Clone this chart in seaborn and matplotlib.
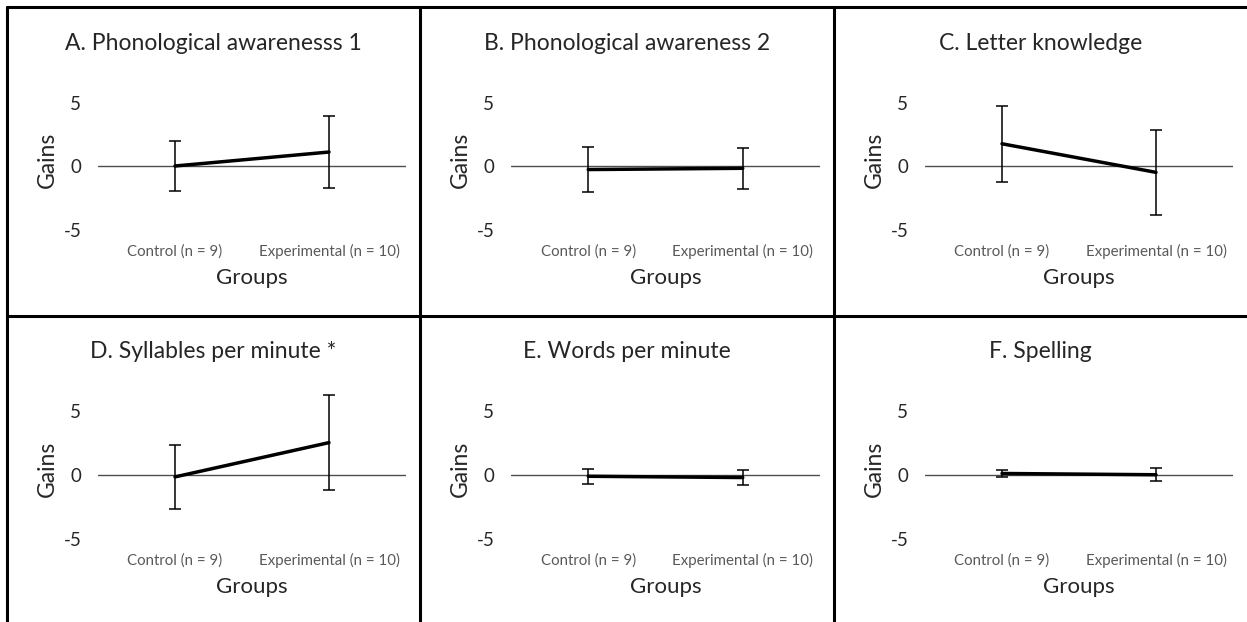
import numpy as np
import pandas as pd
import matplotlib
matplotlib.use("Agg")
import matplotlib.pyplot as plt
import seaborn as sns
from matplotlib.lines import Line2D

sns.set_theme(style="white")
plt.rcParams['font.family'] = ['Lato', 'DejaVu Sans']

# dados
groups = ["Control (n = 9)", "Experimental (n = 10)"]
titles = ["A. Phonological awarenesss 1", "B. Phonological awareness 2", "C. Letter knowledge",
          "D. Syllables per minute *", "E. Words per minute", "F. Spelling"]
control_mean = [0.0, -0.28, 1.75, -0.15, -0.1, 0.12]
control_err = [1.95, 1.75, 3.0, 2.55, 0.6, 0.3]
exp_mean = [1.1, -0.18, -0.5, 2.55, -0.2, 0.02]
exp_err = [2.85, 1.62, 3.35, 3.75, 0.62, 0.52]
yticks = [-5, 0, 5]

W, H = 1247, 622
fig = plt.figure(figsize=(W / 100, H / 100), dpi=100)

cols = [(7, 420), (420, 834), (834, 1247)]
rows = [(7, 316), (316, 622)]
px = 12.7  # pixels por unidade
ylo, yhi = -5.5, 6.5

for i in range(6):
    r0, r1 = rows[i // 3]
    c0, c1 = cols[i % 3]
    left, right = c0 + 91, c1 - 14
    zero = r0 + 159
    top = zero - yhi * px
    bottom = zero - ylo * px
    ax = fig.add_axes([left / W, 1 - bottom / H, (right - left) / W, (bottom - top) / H])

    df = pd.DataFrame({"group": groups, "gain": [control_mean[i], exp_mean[i]]})
    ax.axhline(0, color="#4d4d4d", lw=1, zorder=1)
    sns.pointplot(data=df, x="group", y="gain", errorbar=None, color="black",
                  markers="", linewidth=2.5, ax=ax, zorder=3)
    ax.errorbar([0, 1], df["gain"], yerr=[control_err[i], exp_err[i]], fmt="none",
                ecolor="black", elinewidth=1.1, capsize=4, capthick=1.1, zorder=2, clip_on=False)

    ax.set_ylim(ylo, yhi)
    ax.set_xlim(-0.5, 1.5)
    ax.set_yticks(yticks)
    ax.set_yticklabels([str(t) for t in yticks], fontsize=13.5)
    ax.tick_params(axis="y", length=0, pad=12)
    ax.tick_params(axis="x", length=0, pad=6, labelsize=10.8, labelcolor="#595959")
    sns.despine(ax=ax, left=True, bottom=True)
    ax.set_ylabel("Gains", fontsize=16.5, labelpad=4)
    ax.set_xlabel("Groups", fontsize=16, labelpad=6)
    ax.set_facecolor("none")

    fig.text((c0 + c1) / 2 / W, 1 - (r0 + 36) / H, titles[i], ha="center", va="center", fontsize=16.5)

# bordas da tabela
lw = 2.2
for y in [7, 316]:
    fig.add_artist(Line2D([7 / W, 1], [1 - y / H, 1 - y / H], color="black", lw=lw))
for x in [7, 420, 834]:
    fig.add_artist(Line2D([x / W, x / W], [0, 1 - 7 / H], color="black", lw=lw))

fig.savefig("out.png", dpi=100)
